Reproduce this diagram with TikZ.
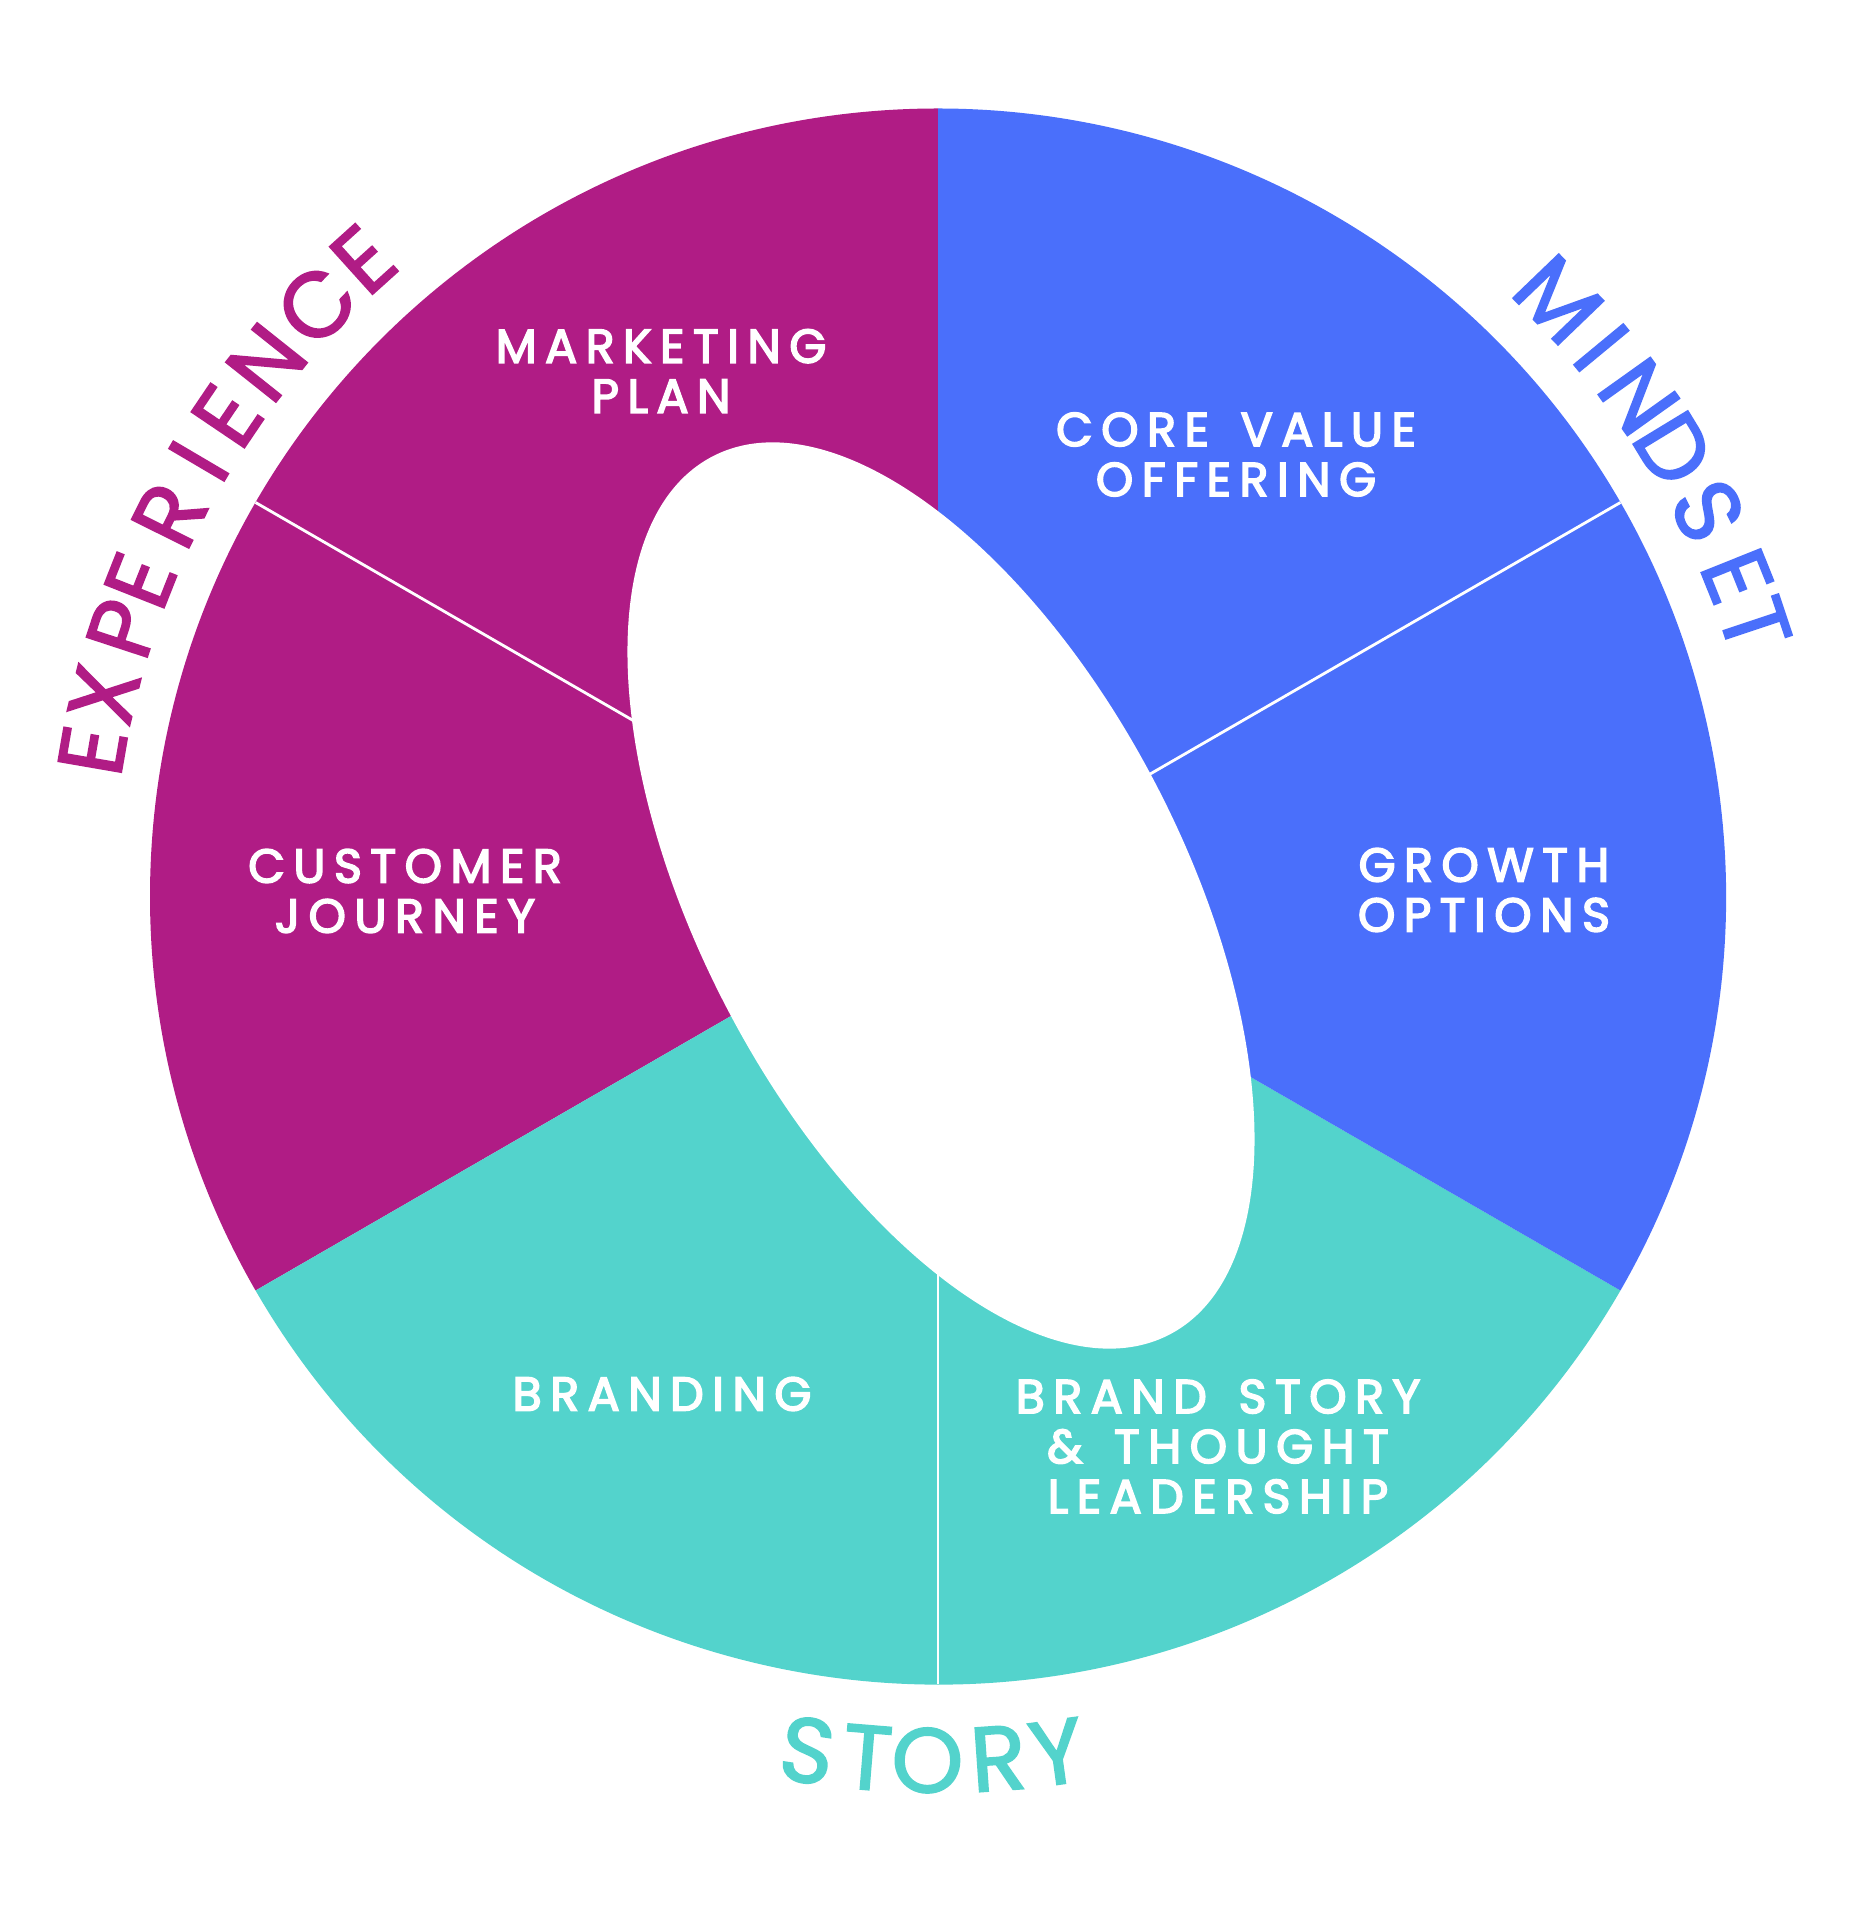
\documentclass[tikz,border=0pt]{standalone}
\usepackage{fontspec}
\setmainfont{Poppins}
\newfontfamily\labfont[LetterSpace=18,FakeBold=3.5,WordSpace=1.5]{Poppins}
\newfontfamily\ringfont[FakeBold=2]{Poppins}
\usetikzlibrary{calc}
\definecolor{mag}{HTML}{B01C85}
\definecolor{blu}{HTML}{4A6FFB}
\definecolor{tea}{HTML}{53D3CC}
\tikzset{
  lab/.style={text=white, align=center, inner sep=0pt,
    font=\labfont\fontsize{13.5}{14.2}\selectfont},
  ring/.style={inner sep=0pt, font=\ringfont\fontsize{26}{30}\selectfont},
  sep/.style={draw=white, line width=0.8pt}
}
\begin{document}
\begin{tikzpicture}[x=0.01cm,y=0.01cm]
\useasboundingbox[fill=white] (0,0) rectangle (1859,1914);
\coordinate (C) at (938,1017.5);
\def\R{788}
% sectors
\fill[mag] (C) -- ++(90:\R) arc[start angle=90,end angle=210,radius=\R] -- cycle;
\fill[tea] (C) -- ++(210:\R) arc[start angle=210,end angle=330,radius=\R] -- cycle;
\fill[blu] (C) -- ++(-30:\R) arc[start angle=-30,end angle=90,radius=\R] -- cycle;
% separators
\coordinate (s1) at ($(C)+(150:\R)$);
\coordinate (s2) at ($(C)+(30:\R)$);
\coordinate (s3) at ($(C)+(-90:\R)$);
\draw[sep] (C) -- (s1);
\draw[sep] (C) -- (s2);
\draw[sep] (C) -- (s3);
% inner hole
\fill[white, shift={(941,1018.5)}, rotate=-62.5] (0,0) ellipse[x radius=495, y radius=242];
% labels
\node[lab] (mp) at (661,1543) {MARKETING\\PLAN};
\node[lab] (cv) at (1236,1459.5) {CORE VALUE\\OFFERING};
\node[lab] (go) at (1484,1024) {GROWTH\\OPTIONS};
\node[lab] (cj) at (405,1023) {CUSTOMER\\JOURNEY};
\node[lab] (br) at (662,520) {BRANDING};
\node[lab] (bs) at (1218,467.5) {BRAND STORY\\\& THOUGHT\\LEADERSHIP};
% ring texts
\foreach \l/\a [count=\i] in {E/170.2, X/166.4, P/161.8, E/158.4, R/153.6, I/149.5, E/145.95, N/141.5, C/136.4, E/132.05}
  \node[ring, text=mag, rotate=\a-90] (ex\i) at ($(C)+(\a:858)$) {\l};
\foreach \l/\a [count=\i] in {M/43.9, I/39.6, N/35.5, D/31.3, S/26.6, E/21.85, T/18.4}
  \node[ring, text=blu, rotate=\a-90] (mi\i) at ($(C)+(\a:861)$) {\l};
\foreach \l/\a [count=\i] in {S/-98.7, T/-94.7, O/-90.7, R/-86.0, Y/-82.1}
  \node[ring, text=tea, rotate=\a+90] (st\i) at ($(C)+(\a:864)$) {\l};
\end{tikzpicture}
\end{document}
